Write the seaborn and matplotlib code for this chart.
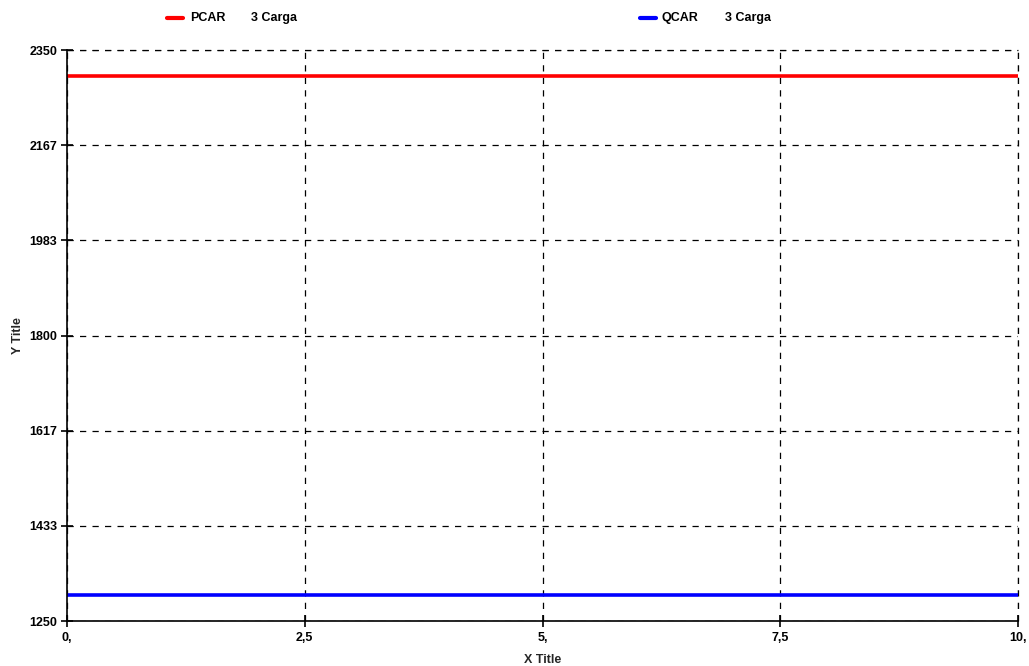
import matplotlib
matplotlib.use("Agg")
import matplotlib.pyplot as plt
import seaborn as sns
import pandas as pd
from matplotlib.ticker import FixedLocator, FuncFormatter

# Series values over time
time = [0, 1, 2, 3, 4, 5, 6, 7, 8, 9, 10]
pcar = [2300] * len(time)
qcar = [1300] * len(time)
series_names = ["PCAR", "QCAR"]
series_suffix = "3 Carga"
series_colors = ["#ff0000", "#0000ff"]

y_min, y_max = 1250, 2350
x_ticks = [0, 2.5, 5, 7.5, 10]

df = pd.concat([
    pd.DataFrame({"t": time, "v": pcar, "s": series_names[0]}),
    pd.DataFrame({"t": time, "v": qcar, "s": series_names[1]}),
])

sns.set_theme(style="white")
plt.rcParams["font.family"] = ["Liberation Sans", "DejaVu Sans"]
plt.rcParams["font.weight"] = "bold"

W, H = 1029, 666
fig = plt.figure(figsize=(W / 100, H / 100), dpi=100)
ax = fig.add_axes([67 / W, 1 - 621 / H, (1018 - 67) / W, (621 - 50) / H])

sns.lineplot(data=df, x="t", y="v", hue="s", palette=series_colors,
             linewidth=2.6, ax=ax, legend=False)

ax.set_xlim(0, 10)
ax.set_ylim(y_min, y_max)

y_ticks = [y_min + i * (y_max - y_min) / 6 for i in range(7)]
ax.yaxis.set_major_locator(FixedLocator(y_ticks))
ax.yaxis.set_major_formatter(FuncFormatter(lambda v, p: f"{v:.0f}"))
ax.xaxis.set_major_locator(FixedLocator(x_ticks))


def fmt_x(v, p):
    if float(v).is_integer():
        return f"{int(v)},"
    return f"{v:g}".replace(".", ",")


ax.xaxis.set_major_formatter(FuncFormatter(fmt_x))

grid_style = dict(color="black", linestyle=(0, (5, 5)), linewidth=0.9)
ax.grid(True, **grid_style)
ax.set_axisbelow(True)
# Outer grid lines at the plot edges, drawn unclipped so they show fully
ax.axvline(x_ticks[-1], clip_on=False, zorder=0.5, **grid_style)
ax.axhline(y_max, clip_on=False, zorder=0.5, **grid_style)

for side in ["top", "right"]:
    ax.spines[side].set_visible(False)
for side in ["left", "bottom"]:
    ax.spines[side].set_color("black")
    ax.spines[side].set_linewidth(1.2)

ax.tick_params(axis="both", which="major", direction="inout", length=8,
               width=1.2, color="black", labelsize=9, labelcolor="black",
               bottom=True, left=True)
ax.tick_params(axis="x", pad=4)
ax.tick_params(axis="y", pad=3)
for lbl in ax.get_xticklabels() + ax.get_yticklabels():
    lbl.set_fontweight("bold")

ax.set_xlabel("X Title", fontsize=9, fontweight="bold")
ax.set_ylabel("Y Title", fontsize=9, fontweight="bold")
ax.xaxis.set_label_coords(0.5, -0.058)
ax.yaxis.set_label_coords(-0.045, 0.5)

# Legend entries along the top
legend_pos = [(167, 190, 251), (640, 662, 725)]
for (lx, tx, sx), name, color in zip(legend_pos, series_names, series_colors):
    y = 1 - 18 / H
    fig.add_artist(plt.Line2D([lx / W, (lx + 16) / W], [y, y], color=color,
                              linewidth=3, transform=fig.transFigure))
    fig.text(tx / W, y, name, fontsize=9, fontweight="bold", va="center",
             ha="left", color="black")
    fig.text(sx / W, y, series_suffix, fontsize=9, fontweight="bold",
             va="center", ha="left", color="black")

fig.savefig("out.png", dpi=100)
